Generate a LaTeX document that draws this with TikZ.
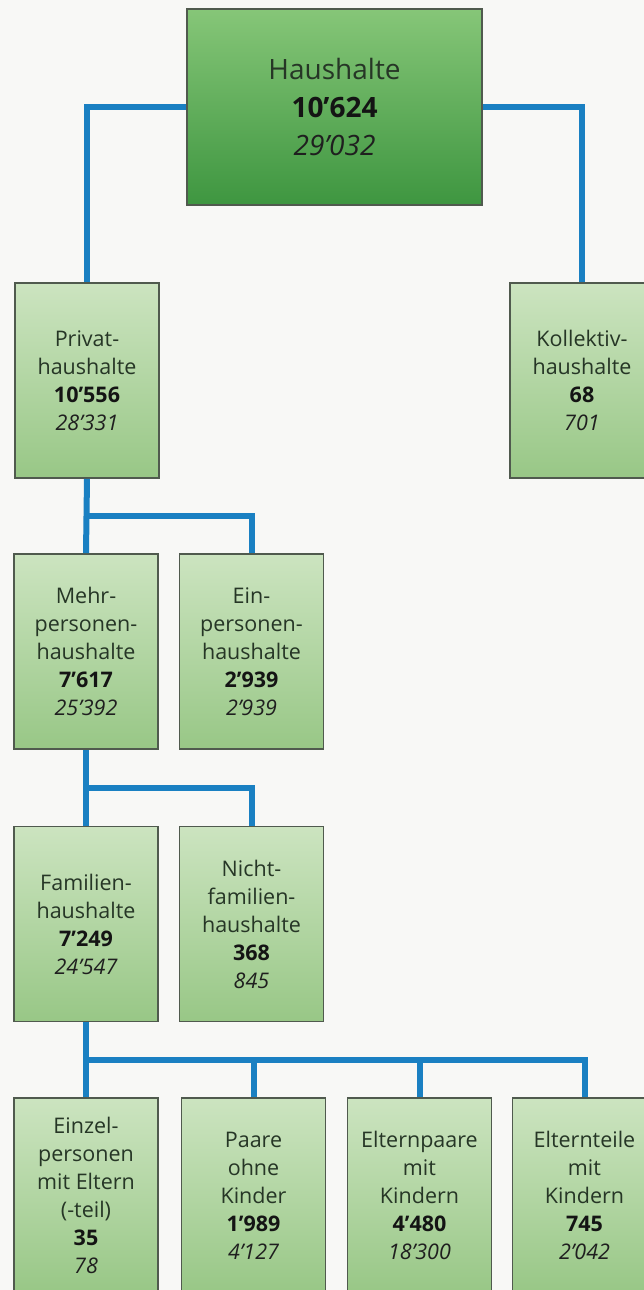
\documentclass[tikz,border=0pt]{standalone}
\usepackage{fontspec}
\setmainfont{Open Sans}
\usetikzlibrary{calc}

\definecolor{bus}{RGB}{26,128,194}
\definecolor{boxline}{RGB}{80,90,78}
\definecolor{lighttop}{RGB}{204,228,192}
\definecolor{lightbot}{RGB}{152,199,134}
\definecolor{darktop}{RGB}{134,198,120}
\definecolor{darkbot}{RGB}{62,150,64}
\definecolor{labeltext}{RGB}{38,54,38}
\definecolor{paper}{RGB}{248,248,246}

\newcommand\nbold[1]{{\bfseries\color{black!92}#1}}
\newcommand\nital[1]{{\itshape\color{black!88}#1}}

\begin{document}
\begin{tikzpicture}[x=1pt,y=-1pt,
  hbox/.style={draw=boxline,line width=1.6pt,top color=lighttop,bottom color=lightbot,
    minimum width=144pt,minimum height=195pt,inner sep=0pt,align=center,
    text=labeltext,font=\fontsize{21.5}{28}\selectfont},
  topbox/.style={hbox,top color=darktop,bottom color=darkbot,
    minimum width=295pt,minimum height=196pt,font=\fontsize{28}{38}\selectfont},
  link/.style={draw=bus,line width=6pt}]

  \useasboundingbox (0,0) rectangle (644,1290);
  \fill[paper] (0,0) rectangle (644,1290);

  \node[topbox] (haus) at (334.5,107) {Haushalte\\\nbold{10’624}\\\nital{29’032}};

  \node[hbox] (privat) at (87,380.5) {Privat-\\haushalte\\\nbold{10’556}\\\nital{28’331}};
  \node[hbox] (koll) at (582,380.5) {Kollektiv-\\haushalte\\\nbold{68}\\\nital{701}};

  \node[hbox] (mehr) at (86,651.5) {Mehr-\\personen-\\haushalte\\\nbold{7’617}\\\nital{25’392}};
  \node[hbox] (ein) at (251.5,651.5) {Ein-\\personen-\\haushalte\\\nbold{2’939}\\\nital{2’939}};

  \node[hbox] (fam) at (86,924) {Familien-\\haushalte\\\nbold{7’249}\\\nital{24’547}};
  \node[hbox] (nicht) at (251.5,924) {Nicht-\\familien-\\haushalte\\\nbold{368}\\\nital{845}};

  \node[hbox] (einzel) at (86,1195.5) {Einzel-\\personen\\mit Eltern\\(-teil)\\\nbold{35}\\\nital{78}};
  \node[hbox] (paare) at (253.5,1195.5) {Paare\\ohne\\Kinder\\\nbold{1’989}\\\nital{4’127}};
  \node[hbox] (epaare) at (419.5,1195.5) {Elternpaare\\mit\\Kindern\\\nbold{4’480}\\\nital{18’300}};
  \node[hbox] (eteile) at (584.5,1195.5) {Elternteile\\mit\\Kindern\\\nbold{745}\\\nital{2’042}};

  \draw[link] (haus.west) -| (privat.north);
  \draw[link] (haus.east) -| (koll.north);

  \coordinate (b1) at ($(privat.south)!0.5!(mehr.north)$);
  \draw[link] (privat.south) -- (mehr.north);
  \draw[link] (b1) -| (ein.north);

  \coordinate (b2) at ($(mehr.south)!0.5!(fam.north)$);
  \draw[link] (mehr.south) -- (fam.north);
  \draw[link] (b2) -| (nicht.north);

  \coordinate (b3) at ($(fam.south)!0.5!(einzel.north)$);
  \draw[link] (fam.south) -- (einzel.north);
  \foreach \k in {paare,epaare,eteile}
    \draw[link] (b3) -| (\k.north);
\end{tikzpicture}
\end{document}
